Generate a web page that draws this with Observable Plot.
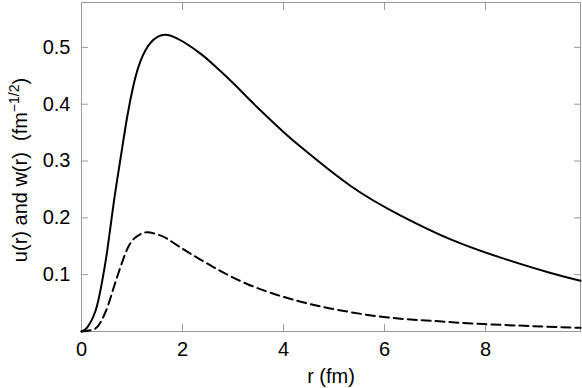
<!DOCTYPE html>
<html><head><meta charset="utf-8">
<script src="https://cdn.jsdelivr.net/npm/d3@7"></script>
<script src="https://cdn.jsdelivr.net/npm/@observablehq/plot@0.6"></script>
<style>body{margin:0;background:#fff} svg{display:block}</style>
</head><body><div id="chart"></div>
<script>
// S-wave u(r)
const rU = [0, 0.11, 0.28, 0.40, 0.509, 0.64, 0.772, 0.905, 1.036, 1.168, 1.366, 1.663, 2.03, 2.356, 2.62, 3.016, 3.35, 3.94, 4.34, 5.33, 6.32, 7.31, 8.30, 9.29, 9.88];
const uVals = [0, 0.007, 0.037, 0.084, 0.142, 0.2275, 0.304, 0.378, 0.436, 0.476, 0.508, 0.5224, 0.509, 0.489, 0.469, 0.436, 0.406, 0.356, 0.325, 0.256, 0.204, 0.162, 0.130, 0.103, 0.0894];
// D-wave w(r)
const rW = [0, 0.245, 0.376, 0.51, 0.64, 0.77, 0.905, 1.036, 1.17, 1.30, 1.50, 1.70, 2.03, 2.62, 3.28, 3.94, 4.34, 4.90, 5.98, 6.98, 7.96, 9.88];
const wVals = [0, 0.004, 0.016, 0.042, 0.078, 0.113, 0.145, 0.163, 0.1715, 0.1746, 0.171, 0.163, 0.144, 0.113, 0.0836, 0.0625, 0.0525, 0.041, 0.0255, 0.0185, 0.013, 0.0065];
const xTicks = [0, 2, 4, 6, 8];
const yTicks = [0.1, 0.2, 0.3, 0.4, 0.5];
const xLabel = "r (fm)";
const yLabelMain = "u(r) and w(r)  (fm";
const yLabelSup = "\u22121/2";
const yLabelEnd = ")";

const uData = rU.map((r, i) => ({r, v: uVals[i]}));
const wData = rW.map((r, i) => ({r, v: wVals[i]}));
const gray = "#9a9a9a";
const fmt = d => String(d);

const svg = Plot.plot({
  width: 582, height: 388,
  marginLeft: 81, marginRight: 2, marginTop: 2, marginBottom: 57,
  style: {fontFamily: "'Liberation Sans', Arial, sans-serif", fontSize: "20px", color: "#000", background: "#fff"},
  x: {domain: [0, 9.88]},
  y: {domain: [0, 0.579]},
  marks: [
    Plot.frame({stroke: gray}),
    Plot.axisX(xTicks, {anchor: "bottom", tickSize: 0, tickPadding: 10, tickFormat: fmt, label: null, fontSize: 20}),
    Plot.axisX(xTicks, {anchor: "bottom", tickSize: -7, tickFormat: () => "", label: null, stroke: gray}),
    Plot.axisX(xTicks, {anchor: "top", tickSize: -7, tickFormat: () => "", label: null, stroke: gray}),
    Plot.axisY(yTicks, {anchor: "left", tickSize: 0, tickPadding: 11, tickFormat: fmt, label: null, fontSize: 20}),
    Plot.axisY(yTicks, {anchor: "left", tickSize: -7, tickFormat: () => "", label: null, stroke: gray}),
    Plot.axisY(yTicks, {anchor: "right", tickSize: -7, tickFormat: () => "", label: null, stroke: gray}),
    Plot.text([xLabel], {frameAnchor: "bottom", dy: 51, lineAnchor: "bottom", fontSize: 20, fill: "#000"}),
    Plot.line(wData, {x: "r", y: "v", stroke: "#000", strokeWidth: 2, strokeDasharray: "9,5", curve: "natural"}),
    Plot.line(uData, {x: "r", y: "v", stroke: "#000", strokeWidth: 2, curve: "natural"})
  ]
});

const s = d3.select(svg);
const t = s.append("text")
  .attr("transform", "translate(27,170) rotate(-90)")
  .attr("text-anchor", "middle")
  .attr("font-size", 20)
  .attr("fill", "#000")
  .style("white-space", "pre");
t.append("tspan").text(yLabelMain);
t.append("tspan").attr("font-size", 14).attr("dy", "-8").text(yLabelSup);
t.append("tspan").attr("dy", "8").text(yLabelEnd);

document.getElementById("chart").appendChild(svg);
</script>
</body></html>
